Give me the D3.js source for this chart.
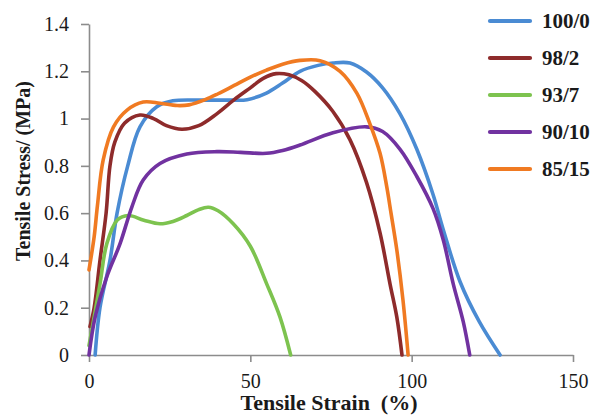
<!DOCTYPE html>
<html>
<head>
<meta charset="utf-8">
<script src="https://cdn.jsdelivr.net/npm/d3@7"></script>
<style>
  html, body { margin: 0; padding: 0; background: #fff; }
  svg { display: block; }
</style>
</head>
<body>
<svg id="chart" width="598" height="418"></svg>
<script>
// Tensile stress–strain curves, [strain %, stress MPa]
const series100_0 = [[1.9,0],[3.4,0.2],[6.5,0.4],[8.7,0.6],[12,0.8],[15.8,0.965],[21,1.05],[26,1.075],[35,1.078],[44,1.078],[49,1.08],[55,1.108],[60,1.15],[65.4,1.2],[71,1.225],[75.6,1.235],[80.9,1.235],[86,1.197],[91,1.13],[96.4,1.02],[101.6,0.87],[106.6,0.68],[109.8,0.53],[115,0.31],[121,0.14],[127.4,0]];
const series98_2 = [[0.3,0.12],[1.6,0.2],[3.4,0.4],[5.3,0.6],[6.5,0.8],[8,0.9],[11,0.98],[15.8,1.015],[20,1.0],[24,0.97],[28.8,0.955],[34,0.97],[39.6,1.02],[45,1.08],[50,1.13],[54,1.17],[58,1.19],[62,1.185],[66,1.16],[70,1.115],[75.6,1.03],[80.9,0.91],[86,0.73],[90.2,0.516],[93.3,0.30],[95.4,0.16],[97,0]];
const series93_7 = [[0,0.04],[3.4,0.30],[5.5,0.47],[8.7,0.57],[12.2,0.59],[17,0.57],[22,0.555],[26,0.565],[30.3,0.59],[34,0.615],[37,0.625],[40,0.61],[44.7,0.555],[50,0.46],[55.1,0.30],[59.2,0.16],[62.5,0]];
const series90_10 = [[0,0],[1.9,0.16],[5.5,0.33],[9.6,0.47],[13.3,0.627],[16.8,0.74],[22,0.81],[30.3,0.85],[39.6,0.86],[47,0.857],[55,0.853],[60,0.865],[65.4,0.888],[75.6,0.94],[86,0.965],[91,0.945],[96.4,0.87],[101.6,0.755],[106.6,0.62],[109.8,0.486],[112.9,0.30],[116,0.14],[118,0]];
const series85_15 = [[0,0.36],[1.6,0.5],[2.6,0.63],[4.4,0.825],[7.6,0.965],[11.8,1.036],[16.8,1.07],[22,1.065],[27.3,1.055],[31,1.058],[36,1.08],[40,1.105],[45,1.14],[50,1.175],[55,1.205],[60,1.23],[65.4,1.246],[71.6,1.245],[77.8,1.2],[83,1.108],[87,0.98],[90.2,0.853],[92.3,0.71],[93.6,0.6],[95.4,0.444],[97.3,0.233],[98.9,0]];

const seriesNames = ["100/0", "98/2", "93/7", "90/10", "85/15"];
const seriesData = [series100_0, series98_2, series93_7, series90_10, series85_15];
const seriesColors = ["#4a8bd3", "#8e2b2b", "#7dc34f", "#7132a0", "#f07a22"];

const xTicks = [0, 50, 100, 150];
const yTicks = [0, 0.2, 0.4, 0.6, 0.8, 1, 1.2, 1.4];
const xTitle = "Tensile Strain  (%)";
const yTitle = "Tensile Stress/ (MPa)";

const serif = '"Liberation Serif", "Times New Roman", serif';
const svg = d3.select("#chart");

const x = d3.scaleLinear().domain([0, 150]).range([89, 573]);
const y = d3.scaleLinear().domain([0, 1.4]).range([355, 24]);

const axisColor = "#8c8c8c";

// Y axis
const gy = svg.append("g").attr("transform", `translate(${x(0)},0)`)
  .call(d3.axisLeft(y).tickValues(yTicks).tickFormat(d3.format("~g"))
    .tickSize(8).tickSizeOuter(0).tickPadding(12));
// X axis
const gx = svg.append("g").attr("transform", `translate(0,${y(0)})`)
  .call(d3.axisBottom(x).tickValues(xTicks).tickFormat(d3.format("d"))
    .tickSize(7).tickSizeOuter(0).tickPadding(12));

[gx, gy].forEach(g => {
  g.select(".domain").attr("stroke", axisColor).attr("stroke-width", 1.6);
  g.selectAll(".tick line").attr("stroke", axisColor).attr("stroke-width", 1.6);
  g.selectAll(".tick text")
    .attr("fill", "#1a1a1a")
    .style("font-family", serif)
    .style("font-size", "20px");
});

// Axis titles
svg.append("text")
  .attr("x", 329).attr("y", 410)
  .attr("text-anchor", "middle")
  .attr("fill", "#1a1a1a")
  .style("font-family", serif)
  .style("font-size", "22px").style("font-weight", "bold")
  .style("white-space", "pre")
  .text(xTitle);

svg.append("text")
  .attr("transform", "translate(30,171) rotate(-90)")
  .attr("text-anchor", "middle")
  .attr("fill", "#1a1a1a")
  .style("font-family", serif)
  .style("font-size", "20px").style("font-weight", "bold")
  .text(yTitle);

// Curves
const line = d3.line()
  .x(d => x(d[0]))
  .y(d => y(d[1]))
  .curve(d3.curveCatmullRom.alpha(0.5));

svg.append("g")
  .selectAll("path")
  .data(seriesData)
  .join("path")
  .attr("d", line)
  .attr("fill", "none")
  .attr("stroke", (d, i) => seriesColors[i])
  .attr("stroke-width", 3.6)
  .attr("stroke-linejoin", "round")
  .attr("stroke-linecap", "round");

// Legend
const legendY = d3.scalePoint().domain(seriesNames).range([21, 169]);
const legend = svg.append("g");
const items = legend.selectAll("g").data(seriesNames).join("g")
  .attr("transform", d => `translate(0,${legendY(d)})`);
items.append("line")
  .attr("x1", 490).attr("x2", 530)
  .attr("stroke", (d, i) => seriesColors[i])
  .attr("stroke-width", 4.2)
  .attr("stroke-linecap", "round");
items.append("text")
  .attr("x", 542).attr("dy", "0.35em")
  .attr("fill", "#1a1a1a")
  .style("font-family", serif)
  .style("font-size", "21px").style("font-weight", "bold")
  .text(d => d);
</script>
</body>
</html>
